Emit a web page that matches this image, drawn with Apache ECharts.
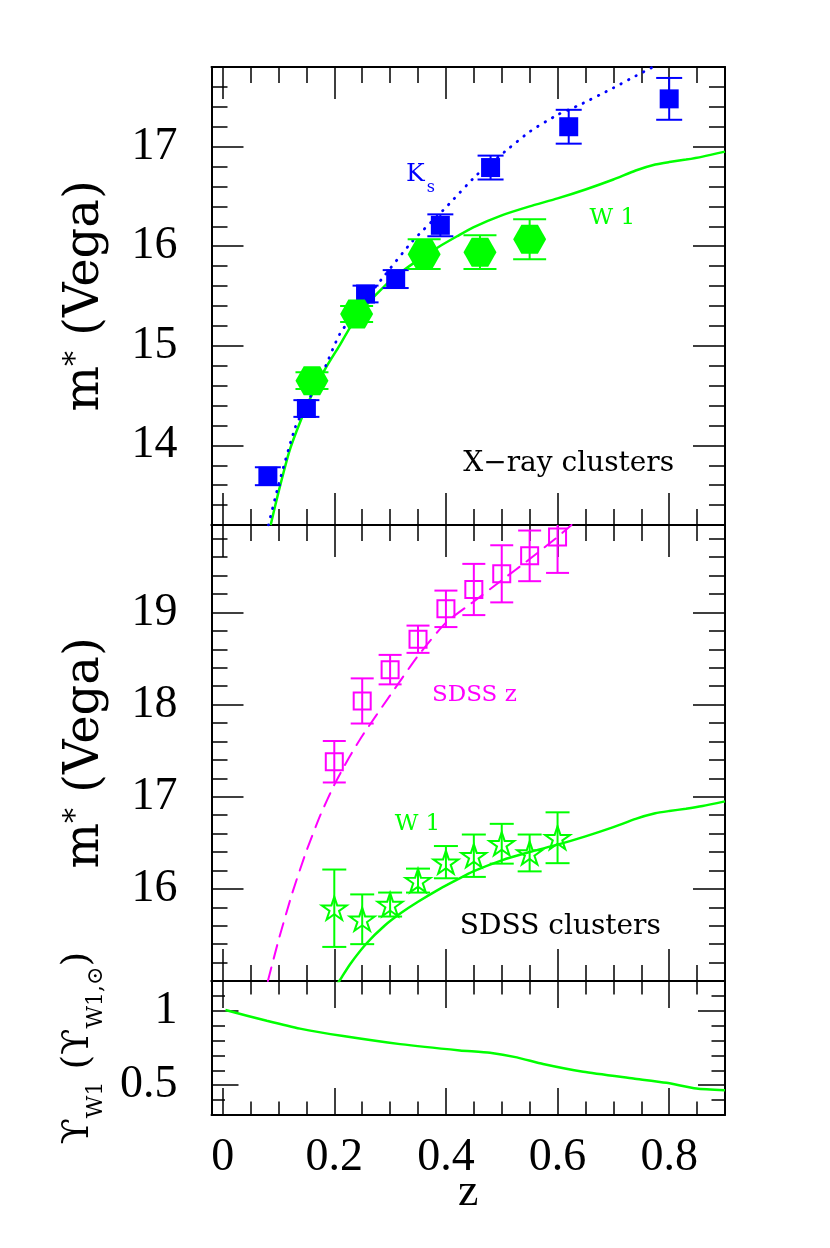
<!DOCTYPE html>
<html><head><meta charset="utf-8">
<script src="https://cdn.jsdelivr.net/npm/echarts@6/dist/echarts.min.js"></script>
<style>html,body{margin:0;padding:0;background:#fff}#c{width:830px;height:1248px}</style>
</head><body><div id="c"></div>
<script>
// ---------------- data ----------------
const zMajorTicks = [0, 0.2, 0.4, 0.6, 0.8];
const zMinorTicks = [0.05, 0.1, 0.15, 0.25, 0.3, 0.35, 0.45, 0.5, 0.55, 0.65, 0.7, 0.75, 0.85];
const xrayMajorTicks = [14, 15, 16, 17];
const xrayMinorTicks = [13.4, 13.6, 13.8, 14.2, 14.4, 14.6, 14.8, 15.2, 15.4, 15.6, 15.8, 16.2, 16.4, 16.6, 16.8, 17.2, 17.4, 17.6];
const sdssMajorTicks = [16, 17, 18, 19];
const sdssMinorTicks = [15.2, 15.4, 15.6, 15.8, 16.2, 16.4, 16.6, 16.8, 17.2, 17.4, 17.6, 17.8, 18.2, 18.4, 18.6, 18.8, 19.2, 19.4, 19.6, 19.8];
const upsMajorTicks = [0.5, 1];
const upsMinorTicks = [0.4, 0.6, 0.7, 0.8, 0.9, 1.1];

// X-ray clusters: Ks (blue squares)
const ksZ   = [0.081, 0.150, 0.256, 0.310, 0.390, 0.480, 0.620, 0.800];
const ksMag = [13.69, 14.37, 15.52, 15.67, 16.21, 16.79, 17.20, 17.48];
const ksErr = [0.09, 0.084, 0.084, 0.09, 0.11, 0.12, 0.17, 0.21];
// X-ray clusters: W1 (green hexagons)
const w1xZ   = [0.160, 0.240, 0.361, 0.461, 0.550];
const w1xMag = [14.65, 15.32, 15.92, 15.94, 16.07];
const w1xErr = [0.084, 0.08, 0.15, 0.17, 0.20];
// SDSS clusters
const sdssZ    = [0.20, 0.25, 0.30, 0.35, 0.40, 0.45, 0.50, 0.55, 0.60];
const sdsszMag = [17.38, 18.04, 18.38, 18.71, 19.04, 19.25, 19.42, 19.615, 19.82];
const sdsszErr = [0.225, 0.245, 0.16, 0.148, 0.198, 0.278, 0.31, 0.275, 0.39];
const w1sMag   = [15.79, 15.67, 15.83, 16.09, 16.29, 16.36, 16.49, 16.39, 16.555];
const w1sErr   = [0.42, 0.27, 0.13, 0.13, 0.175, 0.23, 0.216, 0.20, 0.276];
// model curves
const ksModelZ   = [0.082, 0.10, 0.13, 0.15, 0.18, 0.21, 0.25, 0.285, 0.34, 0.40, 0.456, 0.51, 0.55, 0.60, 0.64, 0.70, 0.74, 0.771];
const ksModelMag = [13.2, 13.6, 14.18, 14.41, 14.74, 15.12, 15.42, 15.67, 16.05, 16.39, 16.72, 16.97, 17.15, 17.32, 17.42, 17.59, 17.71, 17.8];
const w1ModelZ   = [0.086, 0.10, 0.12, 0.145, 0.165, 0.186, 0.209, 0.228, 0.258, 0.29, 0.32, 0.35, 0.389, 0.42, 0.449, 0.50, 0.55, 0.60, 0.65, 0.70, 0.74, 0.775, 0.80, 0.83, 0.86, 0.90];
const w1ModelMag = [13.2, 13.53, 13.95, 14.32, 14.57, 14.79, 15.0, 15.18, 15.41, 15.6, 15.74, 15.86, 16.0, 16.1, 16.19, 16.31, 16.40, 16.48, 16.57, 16.67, 16.76, 16.82, 16.845, 16.87, 16.9, 16.95];
const zModelZ    = [0.081, 0.10, 0.125, 0.15, 0.175, 0.20, 0.225, 0.25, 0.30, 0.35, 0.40, 0.45, 0.50, 0.55, 0.60, 0.625];
const zModelMag  = [15.0, 15.44, 15.96, 16.41, 16.80, 17.13, 17.41, 17.66, 18.10, 18.53, 18.89, 19.12, 19.35, 19.58, 19.82, 19.95];
// mass-to-light ratio
const upsZ   = [0.005, 0.079, 0.1385, 0.216, 0.318, 0.425, 0.479, 0.527, 0.574, 0.646, 0.736, 0.795, 0.849, 0.9];
const upsVal = [1.005, 0.933, 0.88, 0.83, 0.776, 0.734, 0.718, 0.687, 0.642, 0.59, 0.545, 0.516, 0.478, 0.466];

// ---------------- styling ----------------
const BLUE = '#0000ff', GREEN = '#00ff00', MAGENTA = '#ff00ff', BLACK = '#000000';
const TICK_FONT = 'Liberation Serif';
const TEXT_FONT = 'DejaVu Serif';
const Z_RANGE = [-0.02, 0.9];
const HEXAGON = 'path://M0,50L25,0L75,0L100,50L75,100L25,100Z';
const STAR = 'path://M50,0L61.2,34.5L97.6,34.5L68.2,55.9L79.4,90.5L50,69.1L20.6,90.5L31.8,55.9L2.4,34.5L38.8,34.5Z';

function axisSet(dim, grid, range, majors, minors, tickLen, primaryExtra) {
  const posA = dim === 'x' ? 'bottom' : 'left';
  const posB = dim === 'x' ? 'top' : 'right';
  const base = {type: 'value', gridIndex: grid, min: range[0], max: range[1],
    splitLine: {show: false}, axisLabel: {show: false}, nameMoveOverlap: false};
  const major = pos => Object.assign({}, base, {position: pos,
    axisLine: {show: true, onZero: false, lineStyle: {color: BLACK, width: 2}},
    axisTick: {show: true, inside: true, length: tickLen, customValues: majors, lineStyle: {color: BLACK, width: 1.5}}});
  const minor = pos => Object.assign({}, base, {position: pos,
    axisLine: {show: false, onZero: false},
    axisTick: {show: true, inside: true, length: tickLen / 2, customValues: minors, lineStyle: {color: BLACK, width: 1.5}}});
  const arr = [major(posA), major(posB), minor(posA), minor(posB)];
  Object.assign(arr[0], primaryExtra || {});
  return arr;
}

const yTickLabel = {show: true, customValues: null, margin: 34, color: BLACK, fontFamily: TICK_FONT, fontSize: 46};
const mTitle = {
  name: '{m|m}{s|*}{m| (Vega)}', nameLocation: 'middle', nameGap: 102, nameRotate: 90,
  nameTextStyle: {rich: {
    m: {fontFamily: TEXT_FONT, fontSize: 48, color: BLACK, verticalAlign: 'bottom'},
    s: {fontFamily: TEXT_FONT, fontSize: 30, color: BLACK, verticalAlign: 'top'}
  }}
};

const xAxes = [].concat(
  axisSet('x', 0, Z_RANGE, zMajorTicks, zMinorTicks, 32),
  axisSet('x', 1, Z_RANGE, zMajorTicks, zMinorTicks, 32),
  axisSet('x', 2, Z_RANGE, zMajorTicks, zMinorTicks, 27, {
    axisLabel: {show: true, customValues: zMajorTicks, margin: 20, color: BLACK, fontFamily: TICK_FONT, fontSize: 46},
    name: 'z', nameLocation: 'middle', nameGap: 55,
    nameTextStyle: {fontFamily: TICK_FONT, fontSize: 46, color: BLACK}
  })
);
const yAxes = [].concat(
  axisSet('y', 0, [13.2, 17.8], xrayMajorTicks, xrayMinorTicks, 32,
    Object.assign({axisLabel: Object.assign({}, yTickLabel, {customValues: xrayMajorTicks})}, mTitle)),
  axisSet('y', 1, [15.0, 19.95], sdssMajorTicks, sdssMinorTicks, 32,
    Object.assign({axisLabel: Object.assign({}, yTickLabel, {customValues: sdssMajorTicks})}, mTitle)),
  axisSet('y', 2, [0.3, 1.2], upsMajorTicks, upsMinorTicks, 27, {
    axisLabel: Object.assign({}, yTickLabel, {customValues: upsMajorTicks}),
    name: '{u|ϒ}{b|W1}{u| (ϒ}{b|W1,⊙}{u|)}', nameLocation: 'middle', nameGap: 104, nameRotate: 90,
    nameTextStyle: {rich: {
      u: {fontFamily: TEXT_FONT, fontSize: 38, color: BLACK, verticalAlign: 'bottom', padding: [0, 0, 10, 0]},
      b: {fontFamily: TEXT_FONT, fontSize: 22, color: BLACK, verticalAlign: 'bottom'}
    }}
  })
);

const pairs = (xs, ys) => xs.map((x, i) => [x, ys[i]]);
const triples = (xs, ys, es) => xs.map((x, i) => [x, ys[i], es[i]]);

function errorBars(gi, data, color, capW) {
  return {
    type: 'custom', xAxisIndex: gi * 4, yAxisIndex: gi * 4, z: 3, silent: true,
    data: data, encode: {x: 0, y: 1},
    renderItem: function (params, api) {
      const x = api.value(0), y = api.value(1), e = api.value(2);
      const top = api.coord([x, y + e]);
      const bot = api.coord([x, y - e]);
      const cs = params.coordSys;
      const yT = Math.max(top[1], cs.y), yB = Math.min(bot[1], cs.y + cs.height);
      const st = {stroke: color, lineWidth: 2, fill: null};
      const ch = [{type: 'line', shape: {x1: top[0], y1: yT, x2: top[0], y2: yB}, style: st}];
      if (top[1] >= cs.y) ch.push({type: 'line', shape: {x1: top[0] - capW / 2, y1: top[1], x2: top[0] + capW / 2, y2: top[1]}, style: st});
      if (bot[1] <= cs.y + cs.height) ch.push({type: 'line', shape: {x1: bot[0] - capW / 2, y1: bot[1], x2: bot[0] + capW / 2, y2: bot[1]}, style: st});
      return {type: 'group', children: ch};
    }
  };
}
function curve(gi, data, color, type, width) {
  return {type: 'line', xAxisIndex: gi * 4, yAxisIndex: gi * 4, data: data, showSymbol: false, symbol: 'none',
    smooth: 0.2, clip: true, silent: true, z: 2,
    lineStyle: {color: color, width: width, type: type, cap: type === 'solid' ? 'butt' : 'round', opacity: 1}};
}
function markers(gi, data, symbol, size, itemStyle) {
  return {type: 'scatter', xAxisIndex: gi * 4, yAxisIndex: gi * 4, data: data, symbol: symbol,
    symbolSize: size, itemStyle: Object.assign({opacity: 1}, itemStyle), z: 4, silent: true};
}
function note(gi, at, text, color, fontSize) {
  return {type: 'scatter', xAxisIndex: gi * 4, yAxisIndex: gi * 4, data: [at], symbolSize: 1, z: 6, silent: true,
    itemStyle: {color: 'rgba(0,0,0,0)', opacity: 1},
    label: {show: true, position: 'inside', formatter: text, color: color, opacity: 1, fontFamily: TEXT_FONT, fontSize: fontSize}};
}

const series = [
  // panel 1: X-ray clusters
  curve(0, pairs(w1ModelZ, w1ModelMag), GREEN, 'solid', 2.5),
  curve(0, pairs(ksModelZ, ksModelMag), BLUE, [0.5, 8], 2.8),
  errorBars(0, triples(ksZ, ksMag, ksErr), BLUE, 26),
  errorBars(0, triples(w1xZ, w1xMag, w1xErr), GREEN, 33),
  markers(0, pairs(ksZ, ksMag), 'rect', 19, {color: BLUE}),
  markers(0, pairs(w1xZ, w1xMag), HEXAGON, [33, 29], {color: GREEN}),
  note(0, [0.345, 16.72], 'K', BLUE, 25),
  note(0, [0.373, 16.59], 's', BLUE, 16),
  note(0, [0.698, 16.28], 'W 1', GREEN, 23),
  note(0, [0.62, 13.82], 'X\u2212ray clusters', BLACK, 28),
  // panel 2: SDSS clusters
  curve(1, pairs(w1ModelZ, w1ModelMag), GREEN, 'solid', 2.5),
  curve(1, pairs(zModelZ, zModelMag), MAGENTA, [14, 9], 2),
  errorBars(1, triples(sdssZ, sdsszMag, sdsszErr), MAGENTA, 23),
  errorBars(1, triples(sdssZ, w1sMag, w1sErr), GREEN, 24),
  markers(1, pairs(sdssZ, sdsszMag), 'rect', 17, {color: 'rgba(0,0,0,0)', borderColor: MAGENTA, borderWidth: 2}),
  markers(1, pairs(sdssZ, w1sMag), STAR, [25, 23], {color: 'rgba(0,0,0,0)', borderColor: GREEN, borderWidth: 2}),
  note(1, [0.451, 18.10], 'SDSS z', MAGENTA, 23),
  note(1, [0.349, 16.70], 'W 1', GREEN, 23),
  note(1, [0.605, 15.59], 'SDSS clusters', BLACK, 28),
  // panel 3: mass-to-light
  curve(2, pairs(upsZ, upsVal), GREEN, 'solid', 2.5)
];

const chart = echarts.init(document.getElementById('c'), null, {renderer: 'canvas'});
chart.setOption({
  animation: false,
  backgroundColor: '#ffffff',
  grid: [
    {left: 211.5, right: 105, top: 67, height: 458, outerBoundsMode: 'none', containLabel: false},
    {left: 211.5, right: 105, top: 525, height: 456, outerBoundsMode: 'none', containLabel: false},
    {left: 211.5, right: 105, top: 981, height: 134, outerBoundsMode: 'none', containLabel: false}
  ],
  xAxis: xAxes,
  yAxis: yAxes,
  series: series
});
</script></body></html>
